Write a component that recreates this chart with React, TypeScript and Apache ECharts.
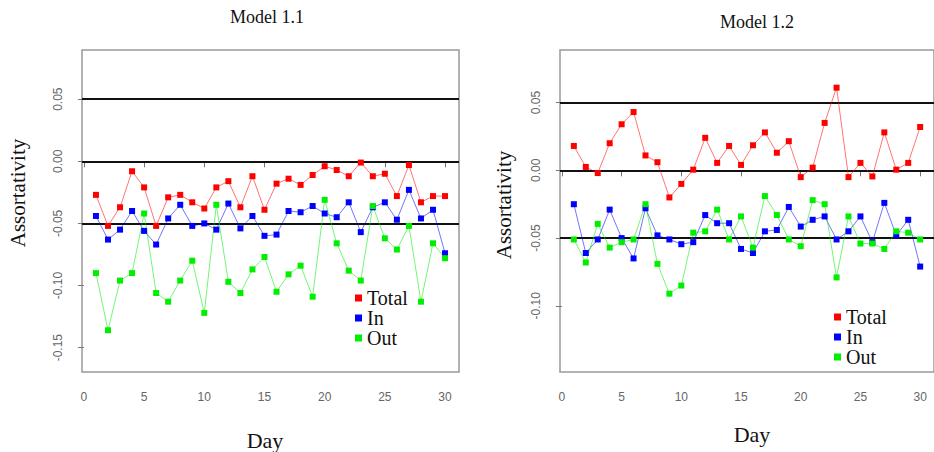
import React, { useEffect, useRef } from "react";
import * as echarts from "echarts";

const days = [1, 2, 3, 4, 5, 6, 7, 8, 9, 10, 11, 12, 13, 14, 15, 16, 17, 18, 19, 20, 21, 22, 23, 24, 25, 26, 27, 28, 29, 30];

const m1Total = [-0.027, -0.052, -0.037, -0.008, -0.021, -0.052, -0.029, -0.027, -0.033, -0.038, -0.021, -0.016, -0.037, -0.012, -0.039, -0.018, -0.014, -0.019, -0.011, -0.004, -0.007, -0.012, -0.001, -0.012, -0.010, -0.028, -0.003, -0.033, -0.028, -0.028];
const m1In = [-0.044, -0.063, -0.055, -0.040, -0.056, -0.067, -0.046, -0.035, -0.052, -0.050, -0.055, -0.034, -0.054, -0.044, -0.060, -0.059, -0.040, -0.041, -0.036, -0.042, -0.045, -0.033, -0.057, -0.037, -0.033, -0.047, -0.023, -0.046, -0.039, -0.074];
const m1Out = [-0.090, -0.136, -0.096, -0.090, -0.042, -0.106, -0.113, -0.096, -0.080, -0.122, -0.035, -0.097, -0.106, -0.087, -0.077, -0.105, -0.091, -0.084, -0.109, -0.031, -0.066, -0.088, -0.096, -0.036, -0.062, -0.071, -0.052, -0.113, -0.066, -0.078];

const m2Total = [0.018, 0.0025, -0.002, 0.020, 0.034, 0.043, 0.011, 0.006, -0.020, -0.010, 0.0005, 0.024, 0.0055, 0.018, 0.004, 0.0185, 0.028, 0.013, 0.0215, -0.005, 0.002, 0.035, 0.061, -0.005, 0.0055, -0.0045, 0.028, 0.0005, 0.0055, 0.032];
const m2In = [-0.025, -0.061, -0.051, -0.029, -0.050, -0.065, -0.028, -0.048, -0.051, -0.0545, -0.053, -0.033, -0.039, -0.039, -0.058, -0.061, -0.045, -0.044, -0.027, -0.0415, -0.0365, -0.034, -0.051, -0.045, -0.034, -0.053, -0.024, -0.048, -0.0365, -0.071];
const m2Out = [-0.051, -0.068, -0.0395, -0.057, -0.053, -0.051, -0.025, -0.069, -0.091, -0.085, -0.046, -0.045, -0.029, -0.051, -0.034, -0.057, -0.019, -0.033, -0.051, -0.056, -0.022, -0.025, -0.079, -0.034, -0.054, -0.054, -0.058, -0.045, -0.046, -0.051];

const xTicks = [0, 5, 10, 15, 20, 25, 30];
const y1Ticks = [-0.15, -0.1, -0.05, 0, 0.05];
const y2Ticks = [-0.1, -0.05, 0, 0.05];
const refLines = [0.05, 0, -0.05];
const seriesNames = ["Total", "In", "Out"];
const colors = ["#ff0000", "#0000ff", "#00ee00"];
const titles = ["Model 1.1", "Model 1.2"];
const yTitle = "Assortativity";
const xTitle = "Day";

const SERIF = "'Liberation Serif', 'DejaVu Serif', serif";
const SANS = "'Liberation Sans', Arial, sans-serif";

export default function App() {
  const ref = useRef<HTMLDivElement>(null);
  useEffect(() => {
    if (!ref.current) return;
    const chart = echarts.init(ref.current, null, { renderer: "svg" });

    const xAxisBase = (gridIndex: number) => ({
      type: "value",
      gridIndex,
      min: -0.16,
      max: 31.16,
      axisLine: { show: false },
      splitLine: { show: false },
      axisTick: { show: true, length: 6, customValues: xTicks, lineStyle: { color: "#777", width: 1 } },
      axisLabel: {
        customValues: xTicks,
        color: "#666",
        fontFamily: SANS,
        fontSize: 12,
        margin: 19,
      },
    });
    const yAxisBase = (gridIndex: number, min: number, max: number, ticks: number[]) => ({
      type: "value",
      gridIndex,
      min,
      max,
      axisLine: { show: false },
      splitLine: { show: false },
      axisTick: { show: true, length: 6, customValues: ticks, lineStyle: { color: "#777", width: 1 } },
      axisLabel: {
        customValues: ticks,
        rotate: 90,
        color: "#666",
        fontFamily: SANS,
        fontSize: 12,
        margin: 18,
        formatter: (v: number) => v.toFixed(2),
      },
    });

    const mk = (name: string, data: number[], color: string, idx: number, withRef: boolean) => ({
      type: "line",
      name,
      xAxisIndex: idx,
      yAxisIndex: idx,
      data: days.map((d, i) => [d, data[i]]),
      symbol: "rect",
      symbolSize: 6,
      showSymbol: true,
      itemStyle: { color },
      lineStyle: { color, width: 1, opacity: 0.55 },
      z: 3,
      markLine: withRef
        ? {
            silent: true,
            symbol: "none",
            label: { show: false },
            lineStyle: { color: "#111", width: 2, type: "solid" },
            data: refLines.map((v) => ({ yAxis: v })),
            z: 2,
          }
        : undefined,
    });

    const legendBase = (left: number, top: number) => ({
      orient: "vertical",
      left,
      top,
      icon: "rect",
      itemWidth: 7,
      itemHeight: 7,
      itemGap: 0,
      data: seriesNames,
      selectedMode: false,
      textStyle: { fontFamily: SERIF, fontSize: 20, color: "#111", lineHeight: 19 },
    });

    const txt = (text: string, x: number, y: number, size: number, rot = 0) => ({
      type: "text",
      x,
      y,
      rotation: rot,
      style: {
        text,
        fontFamily: SERIF,
        fontSize: size,
        fill: "#111",
        align: "center",
        verticalAlign: "middle",
      },
    });

    chart.setOption({
      animation: false,
      backgroundColor: "#fff",
      grid: [
        { left: 82, top: 50, width: 377, height: 322, show: true, borderColor: "#999", borderWidth: 1.5, backgroundColor: "transparent", containLabel: false },
        { left: 560, top: 50, width: 379, height: 322, show: true, borderColor: "#999", borderWidth: 1.5, backgroundColor: "transparent", containLabel: false },
      ],
      xAxis: [xAxisBase(0), xAxisBase(1)],
      yAxis: [yAxisBase(0, -0.1696, 0.0896, y1Ticks), yAxisBase(1, -0.1488, 0.0888, y2Ticks)],
      legend: [legendBase(350, 283), legendBase(829, 302)],
      series: [
        mk(seriesNames[0], m1Total, colors[0], 0, true),
        mk(seriesNames[1], m1In, colors[1], 0, false),
        mk(seriesNames[2], m1Out, colors[2], 0, false),
        mk(seriesNames[0], m2Total, colors[0], 1, true),
        mk(seriesNames[1], m2In, colors[1], 1, false),
        mk(seriesNames[2], m2Out, colors[2], 1, false),
      ],
      graphic: [
        txt(titles[0], 267, 17, 18),
        txt(titles[1], 757, 22, 18),
        txt(yTitle, 18, 193, 21, Math.PI / 2),
        txt(yTitle, 504, 205, 21, Math.PI / 2),
        txt(xTitle, 265, 440, 22),
        txt(xTitle, 752, 434, 22),
      ],
    });
    return () => chart.dispose();
  }, []);
  return <div ref={ref} style={{ position: "fixed", left: 0, top: 0, width: 934, height: 452, background: "#fff" }} />;
}
